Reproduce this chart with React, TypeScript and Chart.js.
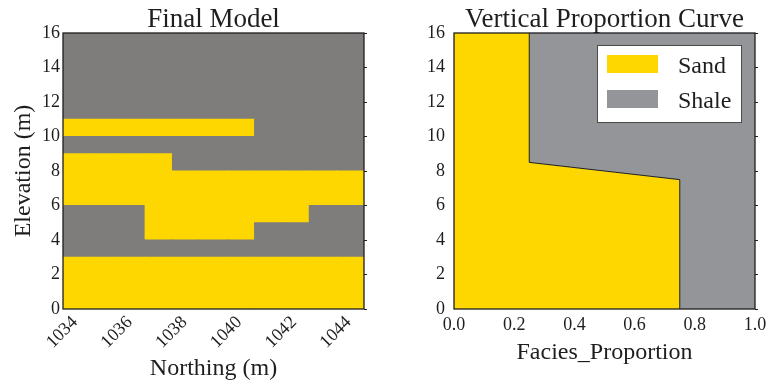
import React, { useEffect, useRef } from "react";
import { Chart, registerables } from "chart.js";

Chart.register(...registerables);

const SAND = "#fed600";
const SHALE_MODEL = "#7e7d7b";
const SHALE_VPC = "#939598";
const INK = "#1e1e1e";
const FONT = "'Liberation Serif', 'Times New Roman', serif";

// Final model grid: cell left edges along northing (m), cell bottoms along elevation (m)
const northingCells = [1034, 1035, 1036, 1037, 1038, 1039, 1040, 1041, 1042, 1043, 1044];
const elevationCells = [0, 1, 2, 3, 4, 5, 6, 7, 8, 9, 10, 11, 12, 13, 14, 15];

// Facies code per cell (1 = sand, 0 = shale), one row per elevation cell, bottom row first
const faciesRows = [
  [1, 1, 1, 1, 1, 1, 1, 1, 1, 1, 1],
  [1, 1, 1, 1, 1, 1, 1, 1, 1, 1, 1],
  [1, 1, 1, 1, 1, 1, 1, 1, 1, 1, 1],
  [0, 0, 0, 0, 0, 0, 0, 0, 0, 0, 0],
  [0, 0, 0, 1, 1, 1, 1, 0, 0, 0, 0],
  [0, 0, 0, 1, 1, 1, 1, 1, 1, 0, 0],
  [1, 1, 1, 1, 1, 1, 1, 1, 1, 1, 1],
  [1, 1, 1, 1, 1, 1, 1, 1, 1, 1, 1],
  [1, 1, 1, 1, 0, 0, 0, 0, 0, 0, 0],
  [0, 0, 0, 0, 0, 0, 0, 0, 0, 0, 0],
  [1, 1, 1, 1, 1, 1, 1, 0, 0, 0, 0],
  [0, 0, 0, 0, 0, 0, 0, 0, 0, 0, 0],
  [0, 0, 0, 0, 0, 0, 0, 0, 0, 0, 0],
  [0, 0, 0, 0, 0, 0, 0, 0, 0, 0, 0],
  [0, 0, 0, 0, 0, 0, 0, 0, 0, 0, 0],
  [0, 0, 0, 0, 0, 0, 0, 0, 0, 0, 0],
];

// Axis ranges and tick spacing
const northingRange = [1034, 1045];
const northingStep = 2;
const elevationRange = [0, 16];
const elevationStep = 2;
const proportionRange = [0, 1];
const proportionStep = 0.2;

// Vertical proportion curve: sand fraction at each elevation (m)
const vpcElevation = [0, 7.5, 8.5, 16];
const vpcSandFraction = [0.75, 0.75, 0.25, 0.25];
const faciesNames = ["Sand", "Shale"];

const tickFont = { family: FONT, size: 18 };
const labelFont = { family: FONT, size: 24, lineHeight: 1.2 };

// Dark frame around the plotting area
const frameBox = {
  id: "frameBox",
  afterDatasetsDraw(chart: any) {
    const { ctx, chartArea: a } = chart;
    ctx.save();
    ctx.strokeStyle = INK;
    ctx.lineWidth = 1.3;
    ctx.strokeRect(a.left, a.top, a.right - a.left, a.bottom - a.top);
    ctx.restore();
  },
};

// Panel heading centred over the plotting area
const panelTitle = {
  id: "panelTitle",
  afterDraw(chart: any, _args: any, opts: any) {
    const { ctx, chartArea: a } = chart;
    ctx.save();
    ctx.font = `27px ${FONT}`;
    ctx.fillStyle = INK;
    ctx.textAlign = "center";
    ctx.textBaseline = "alphabetic";
    ctx.fillText(opts.text, (a.left + a.right) / 2, 27);
    ctx.restore();
  },
};

// Boxed legend in the upper right corner of the plotting area
const boxLegend = {
  id: "boxLegend",
  afterDraw(chart: any) {
    const { ctx, chartArea: a } = chart;
    const boxW = 145;
    const boxH = 78;
    const x0 = a.right - 13 - boxW;
    const y0 = a.top + 12;
    ctx.save();
    ctx.fillStyle = "#ffffff";
    ctx.fillRect(x0, y0, boxW, boxH);
    ctx.strokeStyle = "#4a4a4a";
    ctx.lineWidth = 1;
    ctx.strokeRect(x0 + 0.5, y0 + 0.5, boxW - 1, boxH - 1);
    ctx.font = `24px ${FONT}`;
    ctx.textAlign = "left";
    ctx.textBaseline = "alphabetic";
    chart.data.datasets.forEach((ds: any, i: number) => {
      const rowTop = y0 + 10 + i * 35;
      ctx.fillStyle = ds.backgroundColor;
      ctx.fillRect(x0 + 10, rowTop, 51, 18);
      ctx.fillStyle = INK;
      ctx.fillText(ds.label, x0 + 81, rowTop + 17.5);
    });
    ctx.restore();
  },
};

function rightTickAxis(width: number) {
  return {
    type: "linear",
    position: "right",
    min: elevationRange[0],
    max: elevationRange[1],
    ticks: { display: false, stepSize: elevationStep },
    grid: { display: true, drawOnChartArea: false, drawTicks: true, tickLength: 3, color: INK, lineWidth: 1 },
    border: { display: false },
    afterFit: (s: any) => {
      s.width = width;
    },
  };
}

export default function App() {
  const leftRef = useRef<HTMLCanvasElement>(null);
  const rightRef = useRef<HTMLCanvasElement>(null);

  useEffect(() => {
    document.body.style.margin = "0";

    const modelDatasets = elevationCells.map((elev, r) => ({
      label: `${elev}-${elev + 1} m`,
      data: northingCells.map((n) => ({ x: n + 0.5, y: [elev, elev + 1] })),
      backgroundColor: faciesRows[r].map((f) => (f ? SAND : SHALE_MODEL)),
      borderWidth: 0,
      barPercentage: 1,
      categoryPercentage: 1,
      grouped: false,
      inflateAmount: 0.5,
    }));

    const left = new Chart(leftRef.current!, {
      type: "bar",
      data: { datasets: modelDatasets as any },
      plugins: [frameBox, panelTitle],
      options: {
        responsive: false,
        devicePixelRatio: 1,
        animation: false,
        layout: { padding: { top: 33, left: 0, right: 0, bottom: 0 } },
        plugins: {
          legend: { display: false },
          tooltip: { enabled: false },
          panelTitle: { text: "Final Model" },
        } as any,
        scales: {
          x: {
            type: "linear",
            min: northingRange[0],
            max: northingRange[1],
            offset: false,
            ticks: {
              stepSize: northingStep,
              includeBounds: false,
              minRotation: 45,
              maxRotation: 45,
              font: tickFont,
              color: INK,
              padding: 3,
              labelOffset: 12,
              callback: (v: any) => String(v),
            },
            grid: { display: false, drawTicks: false, offset: false },
            border: { display: false },
            title: {
              display: true,
              text: "Northing (m)",
              font: labelFont,
              color: INK,
              padding: { top: 0, bottom: 2 },
            },
            afterFit: (s: any) => {
              s.height = 76;
            },
          },
          y: {
            type: "linear",
            min: elevationRange[0],
            max: elevationRange[1],
            ticks: { stepSize: elevationStep, font: tickFont, color: INK, padding: 3 },
            grid: { display: false, drawTicks: false },
            border: { display: false },
            title: {
              display: true,
              text: "Elevation (m)",
              font: labelFont,
              color: INK,
              padding: { top: 9, bottom: 0 },
            },
            afterFit: (s: any) => {
              s.width = 63;
            },
          },
          yr: rightTickAxis(20),
        } as any,
      },
    });

    const curve = vpcElevation.map((e, i) => ({ x: vpcSandFraction[i], y: e }));

    const right = new Chart(rightRef.current!, {
      type: "line",
      data: {
        datasets: [
          {
            label: faciesNames[0],
            data: curve,
            backgroundColor: SAND,
            borderColor: INK,
            borderWidth: 1,
            pointRadius: 0,
            tension: 0,
            fill: { value: proportionRange[0] },
          },
          {
            label: faciesNames[1],
            data: curve,
            backgroundColor: SHALE_VPC,
            borderColor: "rgba(0,0,0,0)",
            borderWidth: 0,
            pointRadius: 0,
            tension: 0,
            fill: { value: proportionRange[1] },
          },
        ] as any,
      },
      plugins: [frameBox, panelTitle, boxLegend],
      options: {
        responsive: false,
        devicePixelRatio: 1,
        animation: false,
        indexAxis: "y",
        layout: { padding: { top: 33, left: 0, right: 0, bottom: 0 } },
        plugins: {
          legend: { display: false },
          tooltip: { enabled: false },
          panelTitle: { text: "Vertical Proportion Curve" },
        } as any,
        scales: {
          x: {
            type: "linear",
            min: proportionRange[0],
            max: proportionRange[1],
            ticks: {
              stepSize: proportionStep,
              font: tickFont,
              color: INK,
              padding: 0,
              maxRotation: 0,
              callback: (v: any) => Number(v).toFixed(1),
            },
            // tick length only spaces the labels from the frame; no marks are drawn
            grid: { display: false, drawTicks: true, tickLength: 5 },
            border: { display: false },
            title: {
              display: true,
              text: "Facies_Proportion",
              font: labelFont,
              color: INK,
              padding: { top: 0, bottom: 18 },
            },
            afterFit: (s: any) => {
              s.height = 76;
            },
          },
          y: {
            type: "linear",
            min: elevationRange[0],
            max: elevationRange[1],
            ticks: { stepSize: elevationStep, font: tickFont, color: INK, padding: 9 },
            grid: { display: false, drawTicks: false },
            border: { display: false },
            afterFit: (s: any) => {
              s.width = 70;
            },
          },
          yr: rightTickAxis(13),
        } as any,
      },
    });

    return () => {
      left.destroy();
      right.destroy();
    };
  }, []);

  return (
    <div style={{ position: "absolute", left: 0, top: 0, width: 768, height: 385, background: "#ffffff" }}>
      <canvas
        ref={leftRef}
        width={384}
        height={385}
        style={{ position: "absolute", left: 0, top: 0, width: 384, height: 385 }}
      />
      <canvas
        ref={rightRef}
        width={384}
        height={385}
        style={{ position: "absolute", left: 384, top: 0, width: 384, height: 385 }}
      />
    </div>
  );
}
